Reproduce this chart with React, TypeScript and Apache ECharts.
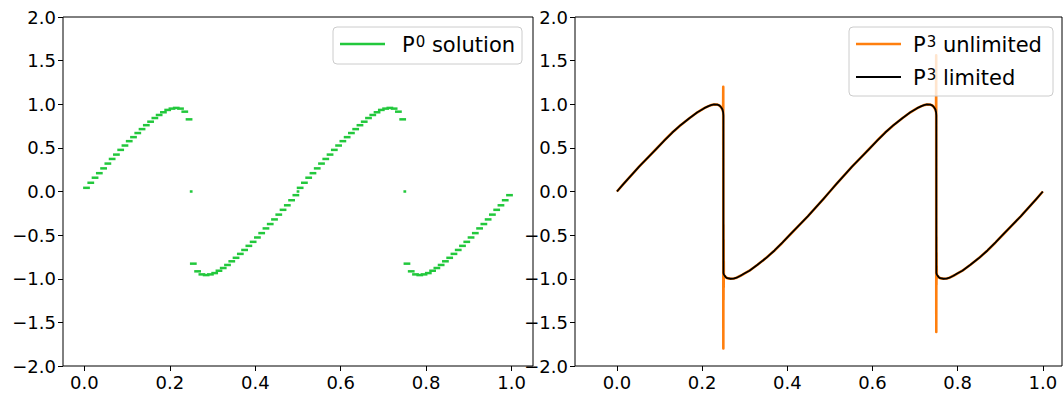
import React, { useEffect, useRef } from "react";
import * as echarts from "echarts";

// ---------- data ----------
const X_TICKS = [0, 0.2, 0.4, 0.6, 0.8, 1.0];
const Y_TICKS = [-2, -1.5, -1, -0.5, 0, 0.5, 1, 1.5, 2];

// P0 cell averages, 100 uniform cells on [0, 1]
const CELL_COUNT = 100;
const P0_VALUES = [
  0.042, 0.100, 0.158, 0.210, 0.265, 0.320, 0.373, 0.423, 0.477, 0.527,
  0.577, 0.623, 0.670, 0.715, 0.760, 0.800, 0.842, 0.877, 0.908, 0.935,
  0.950, 0.958, 0.950, 0.915, 0.827,
  -0.827, -0.915, -0.950, -0.958, -0.950, -0.935, -0.908, -0.877, -0.842, -0.800,
  -0.760, -0.715, -0.670, -0.623, -0.577, -0.527, -0.477, -0.423, -0.373, -0.320,
  -0.265, -0.210, -0.158, -0.100, -0.042,
  0.042, 0.100, 0.158, 0.210, 0.265, 0.320, 0.373, 0.423, 0.477, 0.527,
  0.577, 0.623, 0.670, 0.715, 0.760, 0.800, 0.842, 0.877, 0.908, 0.935,
  0.950, 0.958, 0.950, 0.915, 0.827,
  -0.827, -0.915, -0.950, -0.958, -0.950, -0.935, -0.908, -0.877, -0.842, -0.800,
  -0.760, -0.715, -0.670, -0.623, -0.577, -0.527, -0.477, -0.423, -0.373, -0.320,
  -0.265, -0.210, -0.158, -0.100, -0.042,
];
// isolated interface values
const P0_DOT_X = [0.25, 0.5, 0.75];
const P0_DOT_Y = [0, 0, 0];

// P3 limited
const LIM_X = [
  0, 0.016, 0.033, 0.052, 0.072, 0.092, 0.111, 0.130, 0.150, 0.170, 0.189, 0.205, 0.215, 0.221,
  0.228, 0.236, 0.241, 0.245, 0.2478, 0.2493, 0.2500,
  0.2500, 0.2510, 0.2526, 0.2555, 0.2589, 0.2667, 0.274, 0.281, 0.290, 0.300, 0.311, 0.330, 0.350,
  0.370, 0.389, 0.408, 0.428, 0.448, 0.467, 0.484, 0.500,
  0.516, 0.533, 0.552, 0.572, 0.592, 0.611, 0.630, 0.650, 0.670, 0.689, 0.705, 0.715, 0.721,
  0.728, 0.736, 0.741, 0.745, 0.7478, 0.7493, 0.7500,
  0.7500, 0.7510, 0.7526, 0.7555, 0.7589, 0.7667, 0.774, 0.781, 0.790, 0.800, 0.811, 0.830, 0.850,
  0.870, 0.889, 0.908, 0.928, 0.948, 0.967, 0.984, 1.000,
];
const LIM_Y = [
  0, 0.090, 0.183, 0.285, 0.385, 0.487, 0.584, 0.676, 0.763, 0.840, 0.908, 0.955, 0.978, 0.990,
  0.998, 0.996, 0.985, 0.963, 0.940, 0.910, 0.870,
  -0.935, -0.950, -0.965, -0.982, -0.993, -1.000, -0.998, -0.988, -0.966, -0.938, -0.908, -0.840, -0.763,
  -0.676, -0.584, -0.487, -0.385, -0.285, -0.183, -0.090, 0.000,
  0.090, 0.183, 0.285, 0.385, 0.487, 0.584, 0.676, 0.763, 0.840, 0.908, 0.955, 0.978, 0.990,
  0.998, 0.996, 0.985, 0.963, 0.940, 0.910, 0.870,
  -0.935, -0.950, -0.965, -0.982, -0.993, -1.000, -0.998, -0.988, -0.966, -0.938, -0.908, -0.840, -0.763,
  -0.676, -0.584, -0.487, -0.385, -0.285, -0.183, -0.090, 0.000,
];

// P3 unlimited (oscillates at the shocks)
const UNL_X = [
  0, 0.016, 0.033, 0.052, 0.072, 0.092, 0.111, 0.130, 0.150, 0.170, 0.189, 0.205, 0.215, 0.221,
  0.228, 0.236, 0.241, 0.245, 0.2478, 0.2493,
  0.2496, 0.2498, 0.2500, 0.2502, 0.2504, 0.2506, 0.2508, 0.2510,
  0.2526, 0.2555, 0.2589, 0.2667, 0.274, 0.281, 0.290, 0.300, 0.311, 0.330, 0.350,
  0.370, 0.389, 0.408, 0.428, 0.448, 0.467, 0.484, 0.500,
  0.516, 0.533, 0.552, 0.572, 0.592, 0.611, 0.630, 0.650, 0.670, 0.689, 0.705, 0.715, 0.721,
  0.728, 0.736, 0.741, 0.745, 0.7478, 0.7493,
  0.7496, 0.7498, 0.7500, 0.7502, 0.7504, 0.7506, 0.7508, 0.7510,
  0.7526, 0.7555, 0.7589, 0.7667, 0.774, 0.781, 0.790, 0.800, 0.811, 0.830, 0.850,
  0.870, 0.889, 0.908, 0.928, 0.948, 0.967, 0.984, 1.000,
];
const UNL_Y = [
  0, 0.090, 0.183, 0.285, 0.385, 0.487, 0.584, 0.676, 0.763, 0.840, 0.908, 0.955, 0.978, 0.990,
  0.998, 0.996, 0.985, 0.963, 0.940, 0.910,
  1.20, -1.80, -0.38, -1.24, -0.55, -1.10, -0.80, -0.96,
  -0.965, -0.982, -0.993, -1.000, -0.998, -0.988, -0.966, -0.938, -0.908, -0.840, -0.763,
  -0.676, -0.584, -0.487, -0.385, -0.285, -0.183, -0.090, 0.000,
  0.090, 0.183, 0.285, 0.385, 0.487, 0.584, 0.676, 0.763, 0.840, 0.908, 0.955, 0.978, 0.990,
  0.998, 0.996, 0.985, 0.963, 0.940, 0.910,
  1.56, -1.61, -0.52, -1.07, -0.70, -1.00, -0.85, -0.96,
  -0.965, -0.982, -0.993, -1.000, -0.998, -0.988, -0.966, -0.938, -0.908, -0.840, -0.763,
  -0.676, -0.584, -0.487, -0.385, -0.285, -0.183, -0.090, 0.000,
];

const GREEN = "#22c83c";
const ORANGE = "#ff7f0e";
const FONT = "DejaVu Sans";

const fmt = (v: number) => v.toFixed(1).replace("-", "\u2212");

function makeAxes(gridIndex: number, xmin: number, xmax: number) {
  const tick = { show: true, inside: false, length: 5, lineStyle: { color: "#000", width: 1 } };
  const label = { formatter: fmt, color: "#000", fontFamily: FONT, fontSize: 18, margin: 7 };
  return {
    x: {
      gridIndex,
      type: "value" as const,
      position: "bottom",
      min: xmin,
      max: xmax,
      splitLine: { show: false },
      axisLine: { show: false, onZero: false },
      axisTick: { ...tick, customValues: X_TICKS },
      axisLabel: { ...label, customValues: X_TICKS },
    },
    y: {
      gridIndex,
      type: "value" as const,
      position: "left",
      min: -2,
      max: 2,
      interval: 0.5,
      splitLine: { show: false },
      axisLine: { show: false, onZero: false },
      axisTick: { ...tick, customValues: Y_TICKS },
      axisLabel: { ...label, customValues: Y_TICKS },
    },
  };
}

export default function App() {
  const ref = useRef<HTMLDivElement>(null);
  useEffect(() => {
    if (!ref.current) return;
    const chart = echarts.init(ref.current, undefined, { renderer: "svg" });

    const cells = P0_VALUES.map((u, i) => [i / CELL_COUNT, (i + 1) / CELL_COUNT, u]);
    const dots = P0_DOT_X.map((x, i) => [x - 0.0003, x + 0.0003, P0_DOT_Y[i]]);
    const lim = LIM_X.map((x, i) => [x, LIM_Y[i]]);
    const unl = UNL_X.map((x, i) => [x, UNL_Y[i]]);

    const a0 = makeAxes(0, -0.05, 1.05);
    const a1 = makeAxes(1, -0.0985, 1.045);

    const renderSeg = (params: any, api: any) => {
      const x0 = api.value(0);
      const x1 = api.value(1);
      const u = api.value(2);
      const p0 = api.coord([x0, u]);
      const p1 = api.coord([x1, u]);
      return {
        type: "line",
        shape: { x1: p0[0], y1: p0[1], x2: p1[0], y2: p1[1] },
        style: { stroke: GREEN, lineWidth: 2.5, lineCap: "square" },
      };
    };

    const rich = {
      b: { fontFamily: FONT, fontSize: 21, color: "#000" },
      s: { fontFamily: FONT, fontSize: 15, color: "#000", verticalAlign: "top", padding: [0, 0, 0, 1] },
    };
    const legendText = (x: number, y: number, body: string) => ({
      type: "text",
      z: 101,
      x,
      y,
      style: {
        text: `{b|P}{s|${body[0]}}{b|${body.slice(1)}}`,
        rich,
        fontFamily: FONT,
        fontSize: 21,
        fill: "#000",
        verticalAlign: "middle",
      },
    });

    chart.setOption({
      animation: false,
      backgroundColor: "#fff",
      grid: [
        { left: 63, top: 17, width: 470, height: 349, show: true, borderColor: "#000", borderWidth: 1, backgroundColor: "transparent" },
        { left: 575, top: 17, width: 487, height: 349, show: true, borderColor: "#000", borderWidth: 1, backgroundColor: "transparent" },
      ],
      xAxis: [a0.x, a1.x],
      yAxis: [a0.y, a1.y],
      series: [
        {
          type: "custom",
          name: "P0 solution",
          xAxisIndex: 0,
          yAxisIndex: 0,
          renderItem: renderSeg,
          encode: { x: [0, 1], y: 2 },
          data: cells,
        },
        {
          type: "custom",
          name: "P0 interface",
          xAxisIndex: 0,
          yAxisIndex: 0,
          renderItem: renderSeg,
          encode: { x: [0, 1], y: 2 },
          data: dots,
        },
        {
          type: "line",
          name: "P3 unlimited",
          xAxisIndex: 1,
          yAxisIndex: 1,
          showSymbol: false,
          data: unl,
          lineStyle: { color: ORANGE, width: 2.6, join: "round" },
          z: 2,
        },
        {
          type: "line",
          name: "P3 limited",
          xAxisIndex: 1,
          yAxisIndex: 1,
          showSymbol: false,
          data: lim,
          lineStyle: { color: "#000", width: 1.8, join: "round" },
          z: 3,
        },
      ],
      graphic: [
        { type: "rect", z: 100, shape: { x: 333, y: 27, width: 189, height: 37, r: 4 }, style: { fill: "rgba(255,255,255,0.8)", stroke: "#cccccc", lineWidth: 1 } },
        { type: "line", z: 101, shape: { x1: 340, y1: 44, x2: 385, y2: 44 }, style: { stroke: GREEN, lineWidth: 2.4 } },
        legendText(402, 45, "0 solution"),

        { type: "rect", z: 100, shape: { x: 849, y: 27, width: 204, height: 69, r: 4 }, style: { fill: "rgba(255,255,255,0.8)", stroke: "#cccccc", lineWidth: 1 } },
        { type: "line", z: 101, shape: { x1: 856, y1: 44, x2: 901, y2: 44 }, style: { stroke: ORANGE, lineWidth: 2.4 } },
        legendText(913, 45, "3 unlimited"),
        { type: "line", z: 101, shape: { x1: 856, y1: 77, x2: 901, y2: 77 }, style: { stroke: "#000", lineWidth: 2 } },
        legendText(913, 78, "3 limited"),
      ],
    });
    return () => chart.dispose();
  }, []);

  return (
    <div
      ref={ref}
      style={{ position: "fixed", left: 0, top: 0, width: 1063, height: 394, background: "#fff" }}
    />
  );
}
